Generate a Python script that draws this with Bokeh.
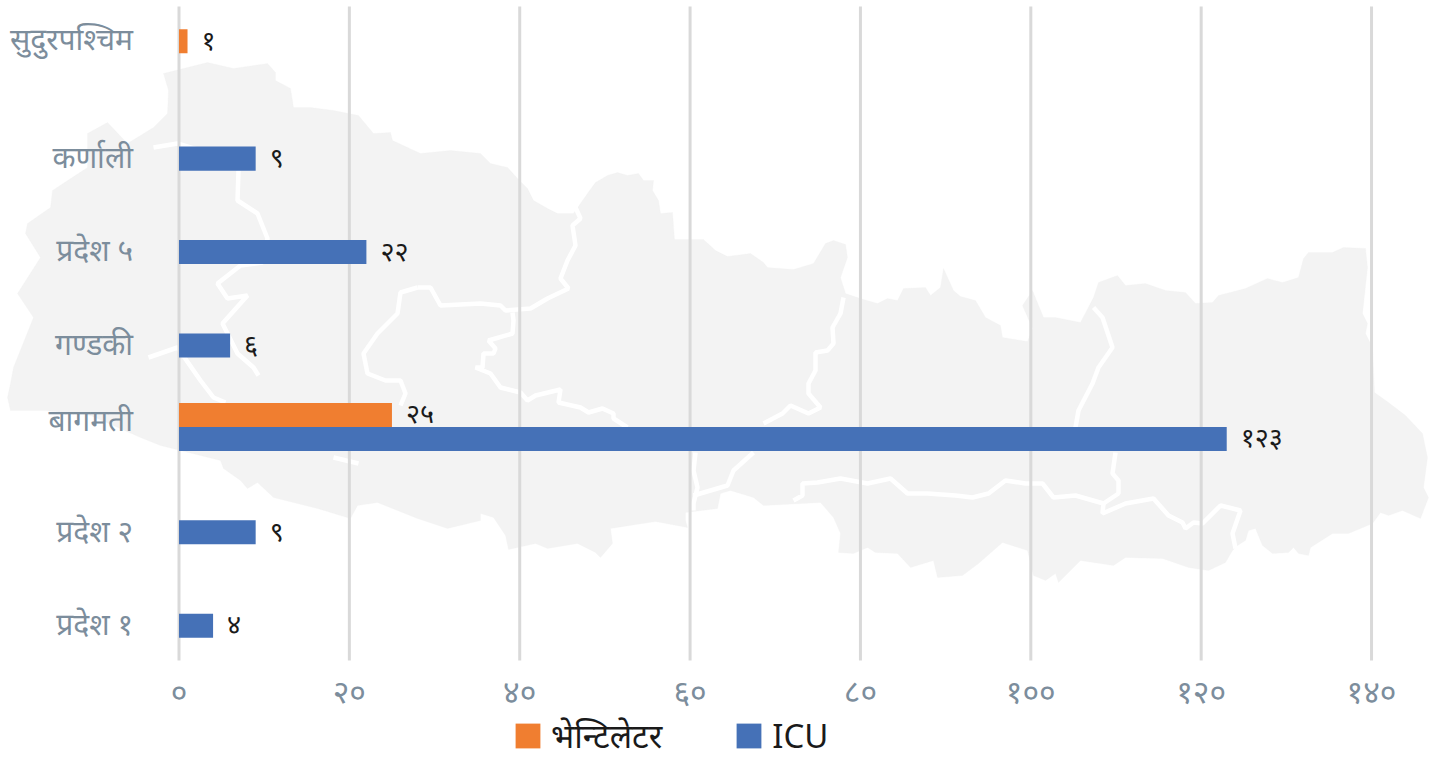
from bokeh.plotting import figure
from bokeh.embed import file_html
from bokeh.resources import INLINE
from bokeh.models import ColumnDataSource, Range1d, Legend, LegendItem, PolyAnnotation, FixedTicker
from bokeh.core.properties import value

provinces = ["प्रदेश १", "प्रदेश २", "बागमती", "गण्डकी", "प्रदेश ५", "कर्णाली", "सुदुरपश्चिम"]
ventilator = [0, 0, 25, 0, 0, 0, 1]
icu = [4, 9, 123, 6, 22, 9, 0]
tick_values = [0, 20, 40, 60, 80, 100, 120, 140]
tick_labels = ["०", "२०", "४०", "६०", "८०", "१००", "१२०", "१४०"]
series_names = ["भेन्टिलेटर", "ICU"]

MAP_OUTLINE = [(163,73),(187,67),(207,62),(233,68),(267,63),(275,72),(275,80),(290,88),(293,107),(310,107),(333,110),(358,115),(373,133),(390,132),(392,140),(420,153),(450,150),(480,153),(490,163),(507,167),(517,178),(527,188),(533,200),(547,208),(557,213),(573,213),(587,193),(595,182),(607,175),(617,172),(627,175),(638,173),(643,180),(653,180),(652,190),(658,200),(660,213),(672,212),(674,239),(703,239),(715,250),(727,256),(750,253),(763,262),(767,267),(793,269),(813,263),(825,243),(833,240),(845,244),(847,257),(840,277),(845,293),(863,299),(877,303),(887,298),(897,300),(903,288),(925,287),(930,295),(940,287),(943,268),(953,290),(960,296),(975,300),(985,317),(1000,325),(1002,337),(1027,341),(1032,328),(1022,305),(1032,290),(1043,317),(1055,317),(1080,322),(1093,297),(1098,282),(1117,275),(1125,285),(1145,283),(1165,290),(1185,292),(1195,303),(1212,302),(1218,295),(1245,288),(1267,278),(1282,282),(1298,277),(1303,258),(1308,252),(1332,252),(1343,247),(1365,248),(1367,267),(1362,313),(1367,323),(1365,333),(1372,347),(1374,392),(1388,402),(1405,415),(1422,433),(1427,457),(1423,487),(1428,497),(1420,518),(1402,510),(1388,515),(1380,512),(1372,523),(1360,528),(1348,533),(1332,533),(1310,547),(1308,555),(1298,553),(1293,547),(1288,552),(1272,553),(1262,545),(1255,528),(1248,530),(1245,540),(1237,545),(1232,550),(1225,562),(1208,570),(1188,567),(1162,558),(1125,557),(1113,565),(1080,560),(1058,582),(1055,573),(1045,580),(1033,575),(1027,550),(1002,542),(978,563),(962,575),(937,577),(933,560),(910,567),(897,553),(875,552),(867,547),(853,553),(838,552),(840,533),(833,517),(820,502),(763,505),(753,497),(730,490),(720,493),(717,508),(685,512),(685,520),(687,527),(655,521),(610,528),(612,543),(600,557),(595,552),(577,543),(547,548),(535,543),(508,549),(505,535),(493,517),(480,513),(480,520),(447,528),(417,518),(377,502),(357,505),(350,518),(317,508),(273,497),(257,482),(247,488),(240,480),(223,468),(220,460),(180,450),(160,445),(140,437),(90,415),(45,410),(10,410),(7,397),(10,383),(13,367),(33,317),(17,293),(40,257),(25,233),(27,223),(50,207),(52,190),(87,167),(87,133),(107,122),(127,143),(153,127),(167,113),(168,90)]

MAP_BORDERS = [
    [(153,147),(177,143),(200,150)],
    [(238,170),(237,200),(257,213),(267,238),(262,262),(240,265),(217,283),(227,298),(247,295),(222,323),(237,353),(253,367),(258,375)],
    [(148,357),(177,347),(200,380),(213,397),(225,402)],
    [(417,287),(400,292),(397,313),(377,333),(363,353),(367,373),(385,380),(400,380),(405,393),(400,405)],
    [(417,287),(430,287),(440,305),(480,303),(500,305),(505,310),(530,308),(547,298),(568,288),(560,278),(567,260),(575,245),(572,225),(580,218),(575,207)],
    [(512,312),(513,320),(512,333),(488,340),(495,348),(493,353),(483,353),(482,367),(475,367),(490,373),(500,387),(520,392),(527,400),(535,395),(560,389),(558,402),(580,407),(588,412),(602,408),(613,413),(613,418),(627,427)],
    [(763,423),(782,413),(790,405),(808,413),(820,407),(808,393),(808,383),(815,370),(815,352),(827,350),(833,343),(832,327),(840,313),(843,297)],
    [(753,452),(733,470),(727,485),(693,495)],
    [(695,452),(693,470),(697,487),(693,503),(693,510)],
    [(793,500),(802,495),(802,483),(817,482),(840,478),(867,483),(890,478),(907,493),(927,493),(955,495),(972,497),(988,493),(1005,480),(1025,483),(1042,483),(1053,497),(1075,495),(1103,503),(1102,513),(1125,503),(1153,498),(1168,515),(1182,522),(1185,528),(1193,522),(1202,523),(1220,505),(1240,510),(1232,533),(1235,548)],
    [(1103,503),(1118,493),(1118,480),(1112,473),(1115,452)],
    [(1075,427),(1078,410),(1092,383),(1098,367),(1112,347),(1102,317),(1093,307)],
    [(333,457),(358,463)],
]

ORANGE = "#F07E30"
BLUE = "#4571B7"
AXIS_TEXT = "#7C8D9C"
FONT = "Noto Sans"
DIGITS = str.maketrans("0123456789", "०१२३४५६७८९")
BAR = 0.257

p = figure(width=1435, height=758, output_backend="svg", toolbar_location=None,
           x_range=Range1d(-20.956, 147.51), y_range=Range1d(-1.049, 7.064),
           min_border=0, outline_line_color=None)

p.add_layout(PolyAnnotation(xs=[a for a, _ in MAP_OUTLINE], ys=[b for _, b in MAP_OUTLINE],
                            xs_units="canvas", ys_units="canvas", level="image",
                            fill_color="#F3F3F3", fill_alpha=1, line_color="#F3F3F3", line_width=1))
for path in MAP_BORDERS:
    xs = [a for a, _ in path] + [a for a, _ in reversed(path)]
    ys = [b for _, b in path] + [b for _, b in reversed(path)]
    p.add_layout(PolyAnnotation(xs=xs, ys=ys, xs_units="canvas", ys_units="canvas", level="image",
                                fill_alpha=0, line_color="white", line_width=4.5, line_alpha=1))

p.grid.visible = False
p.segment(x0=tick_values, x1=tick_values, y0=[0] * len(tick_values), y1=[len(provinces)] * len(tick_values),
          line_color="#D9D9D9", line_width=3)

centres = [i + 0.5 for i in range(len(provinces))]
vent = ColumnDataSource(dict(y=[c + BAR / 2 for c, v in zip(centres, ventilator) if v],
                             val=[v for v in ventilator if v],
                             txt=[str(v).translate(DIGITS) for v in ventilator if v]))
icus = ColumnDataSource(dict(y=[c - BAR / 2 for c, v in zip(centres, icu) if v],
                             val=[v for v in icu if v],
                             txt=[str(v).translate(DIGITS) for v in icu if v]))

r1 = p.hbar(y="y", right="val", left=0, height=BAR, source=vent, fill_color=ORANGE, line_color=None)
r2 = p.hbar(y="y", right="val", left=0, height=BAR, source=icus, fill_color=BLUE, line_color=None)

for src in (vent, icus):
    p.text(x="val", y="y", text="txt", source=src, x_offset=14, y_offset=-2, text_align="left",
           text_baseline="middle", text_font=value(FONT), text_font_size="27px", text_color="#1A1A1A")

# each category label sits level with its single bar (or between the two bars)
label_y = []
for c, v, i in zip(centres, ventilator, icu):
    label_y.append(round(c + 0.025 + (0.05 if v and i else BAR / 2 if v else -BAR / 2), 4))

ax = p.xaxis[0]
ax.fixed_location = 0
ax.ticker = FixedTicker(ticks=tick_values)
ax.major_label_overrides = dict(zip(tick_values, tick_labels))
ax.axis_line_color = None
ax.major_tick_line_color = None
ax.minor_tick_line_color = None
ax.major_label_text_font = FONT
ax.major_label_text_font_size = "32px"
ax.major_label_text_color = AXIS_TEXT
ax.major_label_standoff = 3

ay = p.yaxis[0]
ay.fixed_location = 0
ay.ticker = FixedTicker(ticks=label_y)
ay.major_label_overrides = dict(zip(label_y, provinces))
ay.axis_line_color = None
ay.major_tick_line_color = None
ay.minor_tick_line_color = None
ay.major_label_text_font = FONT
ay.major_label_text_font_size = "30px"
ay.major_label_text_color = AXIS_TEXT
ay.major_label_standoff = 40

legend = Legend(items=[LegendItem(label=series_names[0], renderers=[r1]),
                       LegendItem(label=series_names[1], renderers=[r2])],
                location=(512, 0), orientation="horizontal", padding=0, margin=0, spacing=71,
                glyph_width=31, glyph_height=31, label_standoff=8,
                label_text_font=FONT, label_text_font_size="33px", label_text_color="#1A1A1A",
                background_fill_alpha=0, border_line_color=None)
p.add_layout(legend, "center")

open("out.html", "w").write(file_html(p, INLINE))
